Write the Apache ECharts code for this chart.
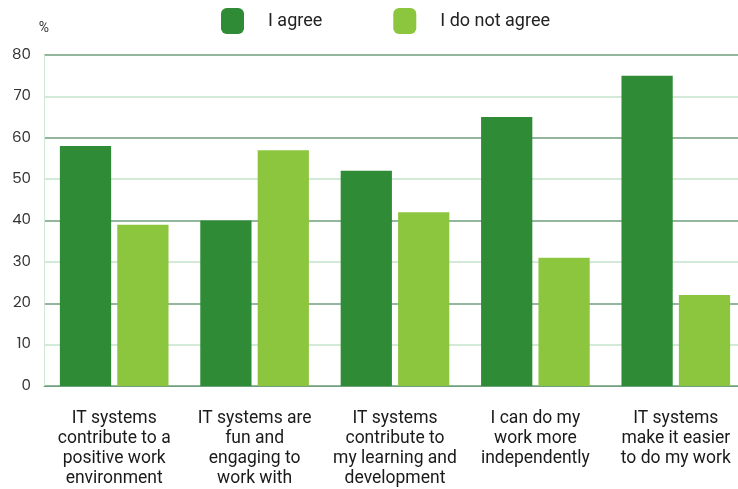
<!DOCTYPE html>
<html><head><meta charset="utf-8">
<script src="https://cdn.jsdelivr.net/npm/echarts@6/dist/echarts.min.js"></script>
<style>html,body{margin:0;padding:0;background:#fff;overflow:hidden}#c{width:746px;height:489px}</style>
</head><body><div id="c"></div>
<script>
const categories = [
  'IT systems\ncontribute to a\npositive work\nenvironment',
  'IT systems are\nfun and\nengaging to\nwork with',
  'IT systems\ncontribute to\nmy learning and\ndevelopment',
  'I can do my\nwork more\nindependently',
  'IT systems\nmake it easier\nto do my work'
];
const agree = [58, 40, 52, 65, 75];
const notAgree = [39, 57, 42, 31, 22];
const seriesNames = ['I agree', 'I do not agree'];

const chart = echarts.init(document.getElementById('c'), null, {renderer: 'canvas'});
chart.setOption({
  animation: false,
  legend: {
    top: 3, left: 216,
    itemWidth: 23, itemHeight: 26, itemGap: 71,
    textStyle: {fontFamily: 'Roboto', fontSize: 18, color: '#222', padding: [0, 0, 0, 19]},
    data: seriesNames
  },
  grid: {left: 44, top: 55, right: 0, bottom: 103},
  xAxis: {
    type: 'category', data: categories,
    axisLine: {lineStyle: {color: '#6f9f7c', width: 1}},
    axisTick: {show: false},
    axisLabel: {fontFamily: 'Roboto', fontSize: 17.5, color: '#1a1a1a', lineHeight: 20, margin: 23, interval: 0}
  },
  yAxis: {
    type: 'value', min: 0, max: 80, interval: 10,
    name: '%', nameLocation: 'end', nameGap: 20,
    nameTextStyle: {fontFamily: 'Roboto', fontSize: 14, color: '#333', align: 'center'},
    axisLine: {show: true, lineStyle: {color: '#cfe8d4'}},
    axisTick: {show: false},
    axisLabel: {fontFamily: 'Poppins, Lato, sans-serif', fontSize: 15, color: '#333', margin: 13},
    splitLine: {lineStyle: {color: ['#6f9f7c', '#c5e3cb'], width: 1.5}}
  },
  series: [
    {name: seriesNames[0], type: 'bar', data: agree, barWidth: '36.5%', barGap: '12%',
     itemStyle: {color: '#2f8b36'}},
    {name: seriesNames[1], type: 'bar', data: notAgree, barWidth: '36.5%',
     itemStyle: {color: '#8cc63f'}}
  ]
});
</script></body></html>
